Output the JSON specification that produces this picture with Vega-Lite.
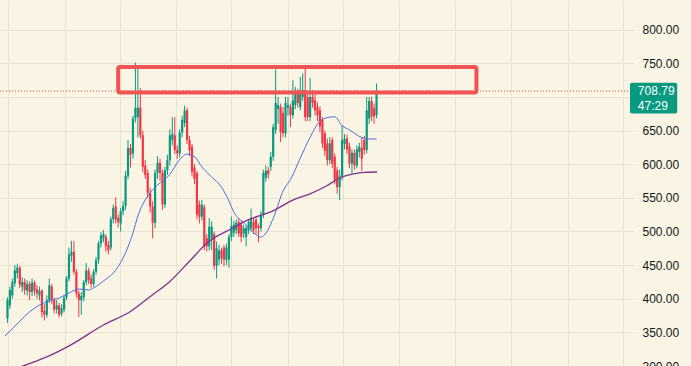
{
  "$schema": "https://vega.github.io/schema/vega-lite/v6.json",
  "width": 634,
  "height": 366,
  "autosize": {"type": "none"},
  "padding": {"left": 0, "top": 0, "right": 57, "bottom": 0},
  "background": "#f9f4e3",
  "config": {"view": {"stroke": null}, "axis": {"gridColor": "#e8e2cf", "gridWidth": 1}},
  "datasets": {
    "candles": [
      {"i":0,"o":371,"h":402,"l":364,"c":398},{"i":1,"o":390,"h":418,"l":385,"c":413},{"i":2,"o":405,"h":430,"l":400,"c":425},{"i":3,"o":423,"h":450,"l":418,"c":442},{"i":4,"o":438,"h":452,"l":430,"c":446},
      {"i":5,"o":446,"h":449,"l":416,"c":421},{"i":6,"o":418,"h":432,"l":410,"c":425},{"i":7,"o":425,"h":430,"l":406,"c":413},{"i":8,"o":412,"h":428,"l":405,"c":422},{"i":9,"o":422,"h":426,"l":398,"c":410},
      {"i":10,"o":410,"h":430,"l":404,"c":424},{"i":11,"o":424,"h":427,"l":405,"c":412},{"i":12,"o":414,"h":420,"l":400,"c":408},{"i":13,"o":405,"h":418,"l":398,"c":412},{"i":14,"o":412,"h":414,"l":372,"c":380},
      {"i":15,"o":382,"h":392,"l":368,"c":376},{"i":16,"o":376,"h":405,"l":372,"c":398},{"i":17,"o":398,"h":430,"l":394,"c":420},{"i":18,"o":418,"h":422,"l":392,"c":398},{"i":19,"o":398,"h":402,"l":378,"c":384},
      {"i":20,"o":384,"h":398,"l":378,"c":390},{"i":21,"o":390,"h":394,"l":372,"c":376},{"i":22,"o":378,"h":392,"l":374,"c":386},{"i":23,"o":384,"h":406,"l":380,"c":402},{"i":24,"o":402,"h":434,"l":398,"c":430},
      {"i":25,"o":430,"h":476,"l":426,"c":466},{"i":26,"o":464,"h":486,"l":455,"c":470},{"i":27,"o":470,"h":486,"l":436,"c":440},{"i":28,"o":440,"h":444,"l":402,"c":408},{"i":29,"o":408,"h":412,"l":373,"c":398},
      {"i":30,"o":398,"h":410,"l":376,"c":404},{"i":31,"o":402,"h":428,"l":396,"c":425},{"i":32,"o":425,"h":453,"l":420,"c":442},{"i":33,"o":442,"h":446,"l":422,"c":428},{"i":34,"o":430,"h":436,"l":416,"c":422},
      {"i":35,"o":422,"h":444,"l":418,"c":440},{"i":36,"o":440,"h":462,"l":436,"c":458},{"i":37,"o":458,"h":486,"l":452,"c":482},{"i":38,"o":482,"h":499,"l":476,"c":494},{"i":39,"o":490,"h":502,"l":484,"c":496},
      {"i":40,"o":492,"h":496,"l":470,"c":478},{"i":41,"o":480,"h":486,"l":466,"c":472},{"i":42,"o":476,"h":522,"l":472,"c":518},{"i":43,"o":518,"h":540,"l":512,"c":535},{"i":44,"o":537,"h":551,"l":512,"c":518},
      {"i":45,"o":520,"h":525,"l":506,"c":514},{"i":46,"o":512,"h":535,"l":500,"c":530},{"i":47,"o":530,"h":545,"l":524,"c":538},{"i":48,"o":538,"h":590,"l":532,"c":583},{"i":49,"o":583,"h":636,"l":578,"c":624},
      {"i":50,"o":624,"h":630,"l":595,"c":614},{"i":51,"o":616,"h":672,"l":608,"c":668},{"i":52,"o":668,"h":751,"l":662,"c":684},{"i":53,"o":670,"h":745,"l":640,"c":684},{"i":54,"o":684,"h":713,"l":638,"c":643},
      {"i":55,"o":643,"h":650,"l":588,"c":596},{"i":56,"o":598,"h":606,"l":578,"c":584},{"i":57,"o":587,"h":592,"l":550,"c":557},{"i":58,"o":557,"h":565,"l":528,"c":537},{"i":59,"o":537,"h":545,"l":490,"c":513},
      {"i":60,"o":513,"h":592,"l":505,"c":587},{"i":61,"o":587,"h":612,"l":578,"c":602},{"i":62,"o":602,"h":608,"l":575,"c":587},{"i":63,"o":587,"h":592,"l":532,"c":540},{"i":64,"o":540,"h":596,"l":535,"c":591},
      {"i":65,"o":591,"h":614,"l":584,"c":606},{"i":66,"o":606,"h":652,"l":598,"c":643},{"i":67,"o":636,"h":670,"l":628,"c":645},{"i":68,"o":643,"h":670,"l":615,"c":621},{"i":69,"o":621,"h":628,"l":608,"c":616},
      {"i":70,"o":616,"h":652,"l":610,"c":647},{"i":71,"o":647,"h":672,"l":640,"c":666},{"i":72,"o":661,"h":687,"l":655,"c":680},{"i":73,"o":680,"h":684,"l":630,"c":636},{"i":74,"o":636,"h":642,"l":612,"c":621},
      {"i":75,"o":626,"h":630,"l":582,"c":589},{"i":76,"o":595,"h":600,"l":570,"c":578},{"i":77,"o":587,"h":590,"l":518,"c":525},{"i":78,"o":540,"h":546,"l":512,"c":522},{"i":79,"o":522,"h":547,"l":516,"c":540},
      {"i":80,"o":536,"h":540,"l":472,"c":478},{"i":81,"o":490,"h":496,"l":470,"c":478},{"i":82,"o":478,"h":520,"l":472,"c":507},{"i":83,"o":490,"h":515,"l":472,"c":507},{"i":84,"o":496,"h":500,"l":443,"c":449},
      {"i":85,"o":449,"h":485,"l":430,"c":475},{"i":86,"o":458,"h":480,"l":450,"c":472},{"i":87,"o":472,"h":476,"l":452,"c":460},{"i":88,"o":476,"h":480,"l":448,"c":458},{"i":89,"o":458,"h":482,"l":450,"c":476},
      {"i":90,"o":458,"h":496,"l":446,"c":492},{"i":91,"o":492,"h":522,"l":486,"c":508},{"i":92,"o":498,"h":516,"l":492,"c":510},{"i":93,"o":502,"h":518,"l":496,"c":513},{"i":94,"o":514,"h":520,"l":492,"c":497},
      {"i":95,"o":510,"h":516,"l":484,"c":492},{"i":96,"o":497,"h":510,"l":490,"c":505},{"i":97,"o":492,"h":508,"l":478,"c":505},{"i":98,"o":502,"h":518,"l":496,"c":514},{"i":99,"o":505,"h":534,"l":500,"c":520},
      {"i":100,"o":514,"h":520,"l":496,"c":502},{"i":101,"o":518,"h":522,"l":496,"c":505},{"i":102,"o":508,"h":512,"l":484,"c":505},{"i":103,"o":505,"h":530,"l":500,"c":525},{"i":104,"o":525,"h":592,"l":520,"c":587},
      {"i":105,"o":580,"h":598,"l":574,"c":590},{"i":106,"o":591,"h":596,"l":578,"c":585},{"i":107,"o":596,"h":618,"l":590,"c":611},{"i":108,"o":611,"h":660,"l":605,"c":655},{"i":109,"o":651,"h":741,"l":645,"c":691},
      {"i":110,"o":682,"h":700,"l":660,"c":688},{"i":111,"o":685,"h":690,"l":633,"c":648},{"i":112,"o":676,"h":685,"l":640,"c":646},{"i":113,"o":646,"h":700,"l":640,"c":691},{"i":114,"o":684,"h":700,"l":672,"c":688},
      {"i":115,"o":685,"h":690,"l":655,"c":673},{"i":116,"o":673,"h":725,"l":668,"c":695},{"i":117,"o":688,"h":715,"l":682,"c":707},{"i":118,"o":707,"h":712,"l":684,"c":691},{"i":119,"o":685,"h":730,"l":680,"c":710},
      {"i":120,"o":700,"h":735,"l":694,"c":710},{"i":121,"o":710,"h":742,"l":664,"c":670},{"i":122,"o":700,"h":706,"l":664,"c":670},{"i":123,"o":670,"h":728,"l":664,"c":700},{"i":124,"o":700,"h":710,"l":684,"c":691},
      {"i":125,"o":695,"h":706,"l":672,"c":680},{"i":126,"o":685,"h":692,"l":664,"c":673},{"i":127,"o":680,"h":686,"l":648,"c":656},{"i":128,"o":666,"h":670,"l":624,"c":631},{"i":129,"o":646,"h":650,"l":612,"c":620},
      {"i":130,"o":631,"h":638,"l":598,"c":606},{"i":131,"o":606,"h":640,"l":600,"c":631},{"i":132,"o":636,"h":640,"l":594,"c":601},{"i":133,"o":611,"h":616,"l":570,"c":576},{"i":134,"o":591,"h":596,"l":556,"c":566},
      {"i":135,"o":566,"h":592,"l":547,"c":582},{"i":136,"o":582,"h":658,"l":576,"c":636},{"i":137,"o":630,"h":645,"l":622,"c":638},{"i":138,"o":638,"h":644,"l":615,"c":622},{"i":139,"o":626,"h":632,"l":594,"c":601},
      {"i":140,"o":601,"h":622,"l":586,"c":617},{"i":141,"o":617,"h":622,"l":592,"c":598},{"i":142,"o":598,"h":628,"l":594,"c":622},{"i":143,"o":618,"h":632,"l":610,"c":626},{"i":144,"o":624,"h":640,"l":590,"c":608},
      {"i":145,"o":636,"h":642,"l":614,"c":621},{"i":146,"o":621,"h":700,"l":616,"c":680},{"i":147,"o":668,"h":700,"l":660,"c":694},{"i":148,"o":694,"h":700,"l":664,"c":671},{"i":149,"o":683,"h":690,"l":660,"c":671},
      {"i":150,"o":673,"h":720,"l":668,"c":708.79}
    ],
    "ma20": [
      {"i":-1,"v":344.5},{"i":3,"v":359},{"i":7,"v":374},{"i":13,"v":390.6},{"i":17,"v":396.5},{"i":21,"v":401},{"i":25,"v":408.5},{"i":29,"v":414.4},{"i":33,"v":413},{"i":35,"v":416},{"i":39,"v":426.4},{"i":43,"v":438.3},{"i":47,"v":460.6},{"i":51,"v":497.8},{"i":53,"v":523},{"i":57,"v":552.7},{"i":61,"v":569},{"i":65.8,"v":584},{"i":69.8,"v":606},{"i":73,"v":615},{"i":76.2,"v":610.7},{"i":79,"v":596},{"i":83,"v":581},{"i":87,"v":566},{"i":89.8,"v":547},{"i":92.2,"v":527.4},{"i":96.2,"v":512.5},{"i":100.2,"v":497.6},{"i":103,"v":491.7},{"i":105.8,"v":502},{"i":108.2,"v":521.4},{"i":112.2,"v":561.6},{"i":115,"v":577},{"i":119,"v":609},{"i":123,"v":640},{"i":127,"v":664},{"i":131,"v":670},{"i":133,"v":670.5},{"i":135.8,"v":658},{"i":139,"v":651},{"i":143.8,"v":640},{"i":147,"v":637.5},{"i":150,"v":637.5}
    ],
    "ma200": [
      {"i":-1,"v":291},{"i":6.2,"v":300},{"i":15,"v":312},{"i":25.8,"v":331.5},{"i":39,"v":361},{"i":49.8,"v":380.6},{"i":59,"v":406},{"i":65.8,"v":425},{"i":73.8,"v":455},{"i":81.8,"v":485},{"i":91,"v":504},{"i":99,"v":519},{"i":107,"v":529},{"i":116.2,"v":547},{"i":123,"v":556},{"i":129.8,"v":568},{"i":135,"v":579.5},{"i":140.2,"v":585.4},{"i":145,"v":587.7},{"i":150.2,"v":588.4}
    ]
  },
  "layer": [
    {
      "data": {"name": "candles"},
      "mark": {"type": "rule", "strokeWidth": 1},
      "encoding": {
        "x": {"field": "i", "type": "quantitative", "scale": {"domain": [-1, 252.6], "nice": false, "zero": false},
              "axis": {"values": [0.3, 23.3, 45.7, 68.3, 91, 113.9, 136.3, 159.3, 181.8, 204.7, 227.7, 250.1], "tickCount": 30, "labels": false, "ticks": false, "domain": false, "title": null, "grid": true}},
        "y": {"field": "l", "type": "quantitative", "scale": {"domain": [300, 844.1], "nice": false, "zero": false},
              "axis": {"orient": "right", "values": [300, 350, 400, 450, 500, 550, 600, 650, 700, 750, 800], "tickCount": 30, "labelExpr": "datum.value === 700 ? '' : format(datum.value, '.2f')", "ticks": false, "domain": false, "title": null, "grid": true, "labelOverlap": false, "labelBound": false, "labelFlush": false, "labelPadding": 8, "labelFont": "Liberation Sans", "labelFontSize": 12, "labelColor": "#131722"}},
        "y2": {"field": "h"},
        "color": {"condition": {"test": "datum.c >= datum.o", "value": "#089981"}, "value": "#f23645"}
      }
    },
    {
      "data": {"name": "candles"},
      "mark": {"type": "bar", "width": 2.2},
      "encoding": {
        "x": {"field": "i", "type": "quantitative"},
        "y": {"field": "o", "type": "quantitative"},
        "y2": {"field": "c"},
        "color": {"condition": {"test": "datum.c >= datum.o", "value": "#089981"}, "value": "#f23645"}
      }
    },
    {
      "data": {"name": "ma20"},
      "mark": {"type": "line", "color": "#4c6fdc", "strokeWidth": 1, "interpolate": "monotone"},
      "encoding": {"x": {"field": "i", "type": "quantitative"}, "y": {"field": "v", "type": "quantitative"}}
    },
    {
      "data": {"name": "ma200"},
      "mark": {"type": "line", "color": "#7f318f", "strokeWidth": 1.3, "interpolate": "monotone"},
      "encoding": {"x": {"field": "i", "type": "quantitative"}, "y": {"field": "v", "type": "quantitative"}}
    },
    {
      "data": {"values": [{"p": 708.79}]},
      "mark": {"type": "rule", "color": "#d0453c", "strokeWidth": 1, "strokeDash": [1, 2]},
      "encoding": {"y": {"field": "p", "type": "quantitative"}}
    },
    {
      "data": {"values": [{"a": 45, "b": 190.6, "lo": 706.6, "hi": 744.5}]},
      "mark": {"type": "rect", "fill": null, "fillOpacity": 0, "stroke": "#f05454", "strokeWidth": 4, "cornerRadius": 2},
      "encoding": {"x": {"field": "a", "type": "quantitative"}, "x2": {"field": "b"}, "y": {"field": "lo", "type": "quantitative"}, "y2": {"field": "hi"}}
    },
    {
      "data": {"values": [{"a": 253, "b": 272.2, "lo": 675.5, "hi": 721}]},
      "mark": {"type": "rect", "color": "#089981", "cornerRadius": 2, "clip": false},
      "encoding": {"x": {"field": "a", "type": "quantitative"}, "x2": {"field": "b"}, "y": {"field": "lo", "type": "quantitative"}, "y2": {"field": "hi"}}
    },
    {
      "data": {"values": [{"t": "708.79", "x": 256.2, "y": 709.5}, {"t": "47:29", "x": 256.2, "y": 686}]},
      "mark": {"type": "text", "align": "left", "baseline": "middle", "color": "#ffffff", "font": "Liberation Sans", "fontSize": 12, "clip": false},
      "encoding": {"x": {"field": "x", "type": "quantitative"}, "y": {"field": "y", "type": "quantitative"}, "text": {"field": "t"}}
    }
  ]
}
